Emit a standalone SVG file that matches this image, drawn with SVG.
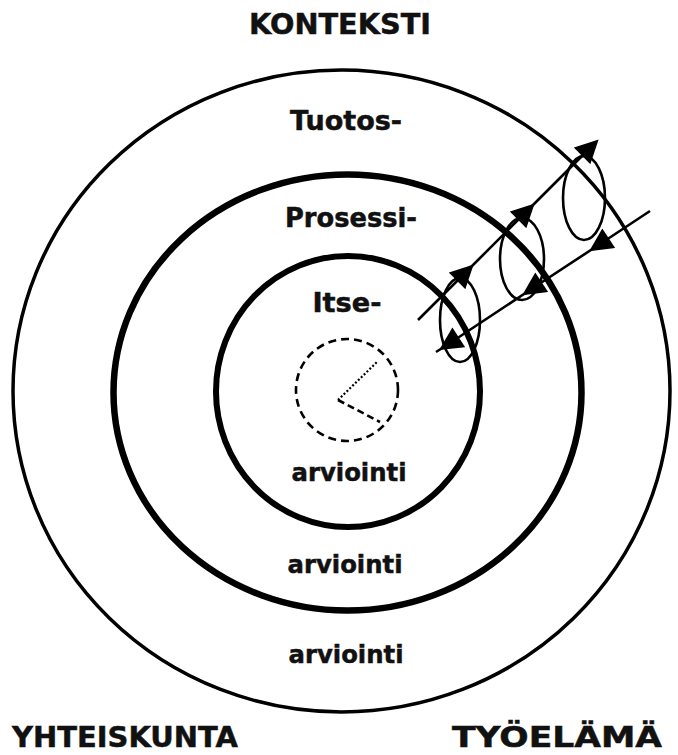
<svg xmlns="http://www.w3.org/2000/svg" width="678" height="755" viewBox="0 0 678 755">
<style>
  .lbl { font-family: "DejaVu Sans", Verdana, sans-serif; font-weight: bold; fill: #111; stroke: #111; stroke-width: 0.5; text-anchor: middle; }
  .ring { fill: none; stroke: #000; }
  .loop { fill: none; stroke: #000; stroke-width: 2.6; }
  .conn { fill: none; stroke: #000; stroke-width: 2.6; }
</style>
<defs>
  <marker id="tri" viewBox="0 0 10 10" refX="6" refY="5" markerWidth="9.5" markerHeight="9" markerUnits="strokeWidth" orient="auto">
    <path d="M0,0 L10,5 L0,10 Z" fill="#000"/>
  </marker>
</defs>
<rect width="678" height="755" fill="#fff"/>

<text class="lbl" x="340" y="34" font-size="29" textLength="182" lengthAdjust="spacingAndGlyphs">KONTEKSTI</text>

<g id="ring-outer">
  <ellipse class="ring" cx="341.5" cy="391" rx="328.5" ry="321" stroke-width="3.5"/>
  <text class="lbl" x="346" y="130" font-size="26" textLength="112" lengthAdjust="spacingAndGlyphs">Tuotos-</text>
  <text class="lbl" x="346" y="663" font-size="25" textLength="115" lengthAdjust="spacingAndGlyphs">arviointi</text>
</g>

<g id="ring-middle">
  <ellipse class="ring" cx="347.5" cy="392.5" rx="234" ry="218" stroke-width="6.5"/>
  <text class="lbl" x="351" y="227" font-size="26" textLength="132" lengthAdjust="spacingAndGlyphs">Prosessi-</text>
  <text class="lbl" x="345" y="573" font-size="25" textLength="115" lengthAdjust="spacingAndGlyphs">arviointi</text>
</g>

<g id="ring-inner">
  <ellipse class="ring" cx="348" cy="391.5" rx="132" ry="135.5" stroke-width="6"/>
  <text class="lbl" x="347" y="312" font-size="26" textLength="69" lengthAdjust="spacingAndGlyphs">Itse-</text>
  <text class="lbl" x="349" y="481" font-size="25" textLength="115" lengthAdjust="spacingAndGlyphs">arviointi</text>
</g>

<g id="self-core">
  <circle cx="347" cy="390" r="51" fill="none" stroke="#000" stroke-width="2.6" stroke-dasharray="8 5"/>
  <line x1="338" y1="400" x2="377" y2="362" stroke="#000" stroke-width="2.2" stroke-dasharray="2 2"/>
  <line x1="338" y1="400" x2="380" y2="422" stroke="#000" stroke-width="2.6" stroke-dasharray="7 4"/>
</g>

<g id="loop-1"><ellipse class="loop" cx="460" cy="320" rx="20" ry="42"/></g>
<g id="loop-2"><ellipse class="loop" cx="522" cy="259" rx="22" ry="41"/></g>
<g id="loop-3"><ellipse class="loop" cx="584" cy="198" rx="21" ry="42"/></g>

<g id="connectors">
  <path class="conn" d="M418,320 L467,271 L528,210 L592,146" marker-mid="url(#tri)" marker-end="url(#tri)"/>
  <path class="conn" d="M650,211 L597,246 L530,290 L447,345 L436,352" marker-mid="url(#tri)"/>
</g>

<g id="societies">
  <text class="lbl" x="125" y="747" font-size="28" textLength="226" lengthAdjust="spacingAndGlyphs">YHTEISKUNTA</text>
  <text class="lbl" x="557" y="747" font-size="28" textLength="210" lengthAdjust="spacingAndGlyphs">TYÖELÄMÄ</text>
</g>
</svg>
